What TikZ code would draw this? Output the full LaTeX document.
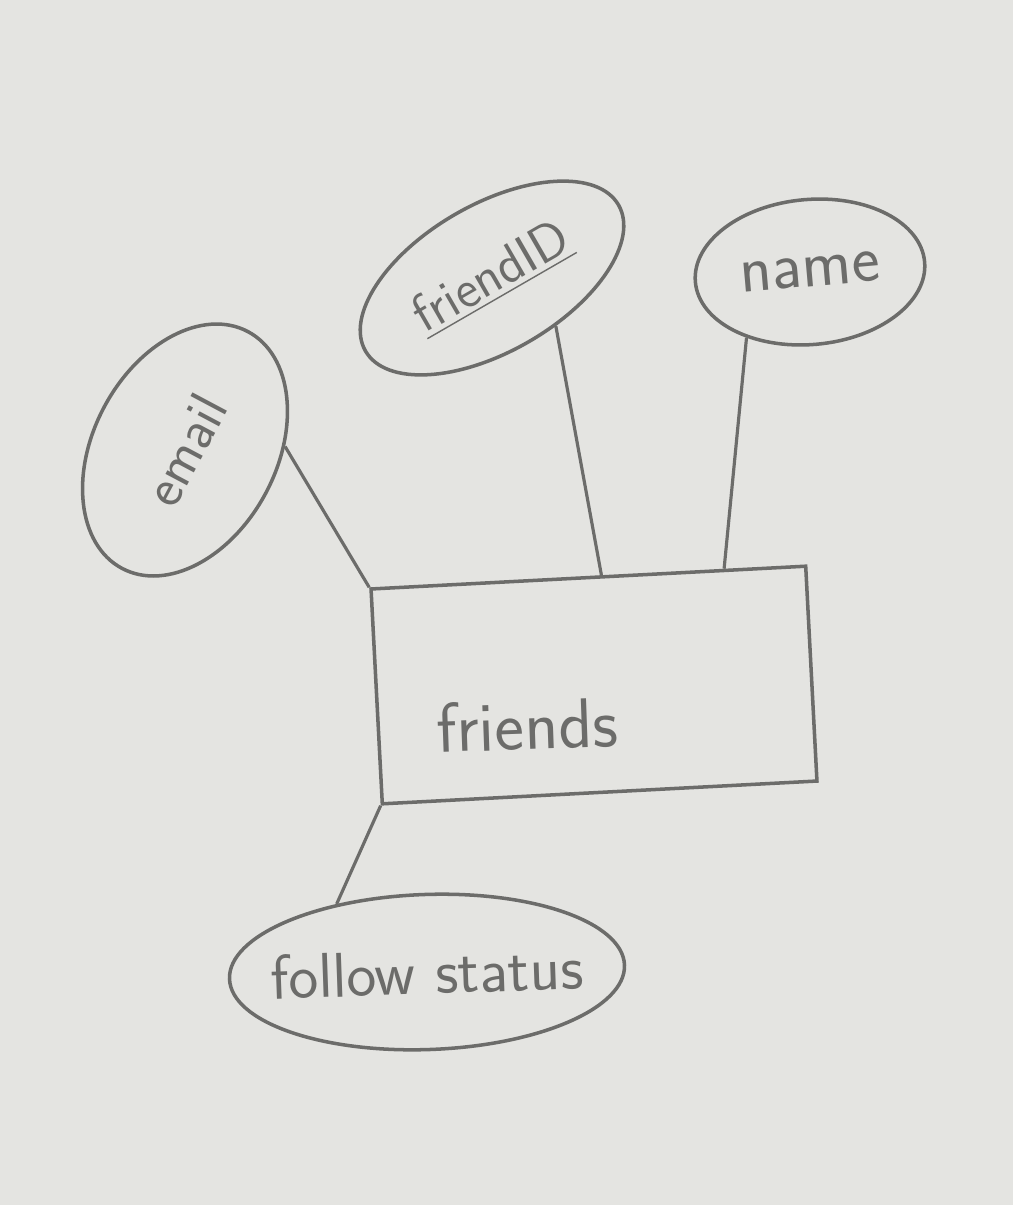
\documentclass[tikz,border=0pt]{standalone}
\usetikzlibrary{shapes.geometric,calc}
\definecolor{paper}{HTML}{E4E4E1}
\definecolor{pencil}{HTML}{6C6C6A}
\newcommand{\handword}[1]{\makebox[0pt]{#1}}
\begin{document}
\begin{tikzpicture}[x=0.01cm,y=-0.01cm,
	attr/.style={ellipse,draw=pencil,line width=1pt,inner sep=0pt,text=pencil},
	entity/.style={rectangle,draw=pencil,line width=1pt,minimum width=4.35cm,minimum height=2.15cm},
	link/.style={draw=pencil,line width=0.9pt}]
	\fill[paper] (0,0) rectangle (1013,1205);
	\useasboundingbox (0,0) rectangle (1013,1205);
	% entity
	\node[entity,rotate=3] (friends) at (594,685) {};
	\node[text=pencil,font=\sffamily\fontsize{20}{24}\selectfont,rotate=2] (friendslabel) at (527,725) {friends};
	% attributes
	\node[attr,rotate=62,minimum width=2.68cm,minimum height=1.83cm,font=\sffamily\fontsize{16}{18}\selectfont] (email) at (185,450) {\handword{email}};
	\node[attr,rotate=30,minimum width=2.92cm,minimum height=1.47cm,font=\sffamily\fontsize{15}{18}\selectfont] (friendid) at (492,278) {\handword{\underline{friendID}}};
	\node[attr,rotate=5,minimum width=2.3cm,minimum height=1.45cm,font=\sffamily\fontsize{19}{22}\selectfont] (name) at (810,272) {\handword{name}};
	\node[attr,rotate=2,minimum width=3.95cm,minimum height=1.55cm,font=\sffamily\fontsize{18}{22}\selectfont] (status) at (427,972) {\handword{follow status}};
	% links
	\draw[link] (email.-60) -- (friends.north west);
	\draw[link] (friendid.-67) -- ($(friends.north west)!0.53!(friends.north east)$);
	\draw[link] (name.-139) -- ($(friends.north west)!0.81!(friends.north east)$);
	\draw[link] (status.141) -- (friends.south west);
\end{tikzpicture}
\end{document}
